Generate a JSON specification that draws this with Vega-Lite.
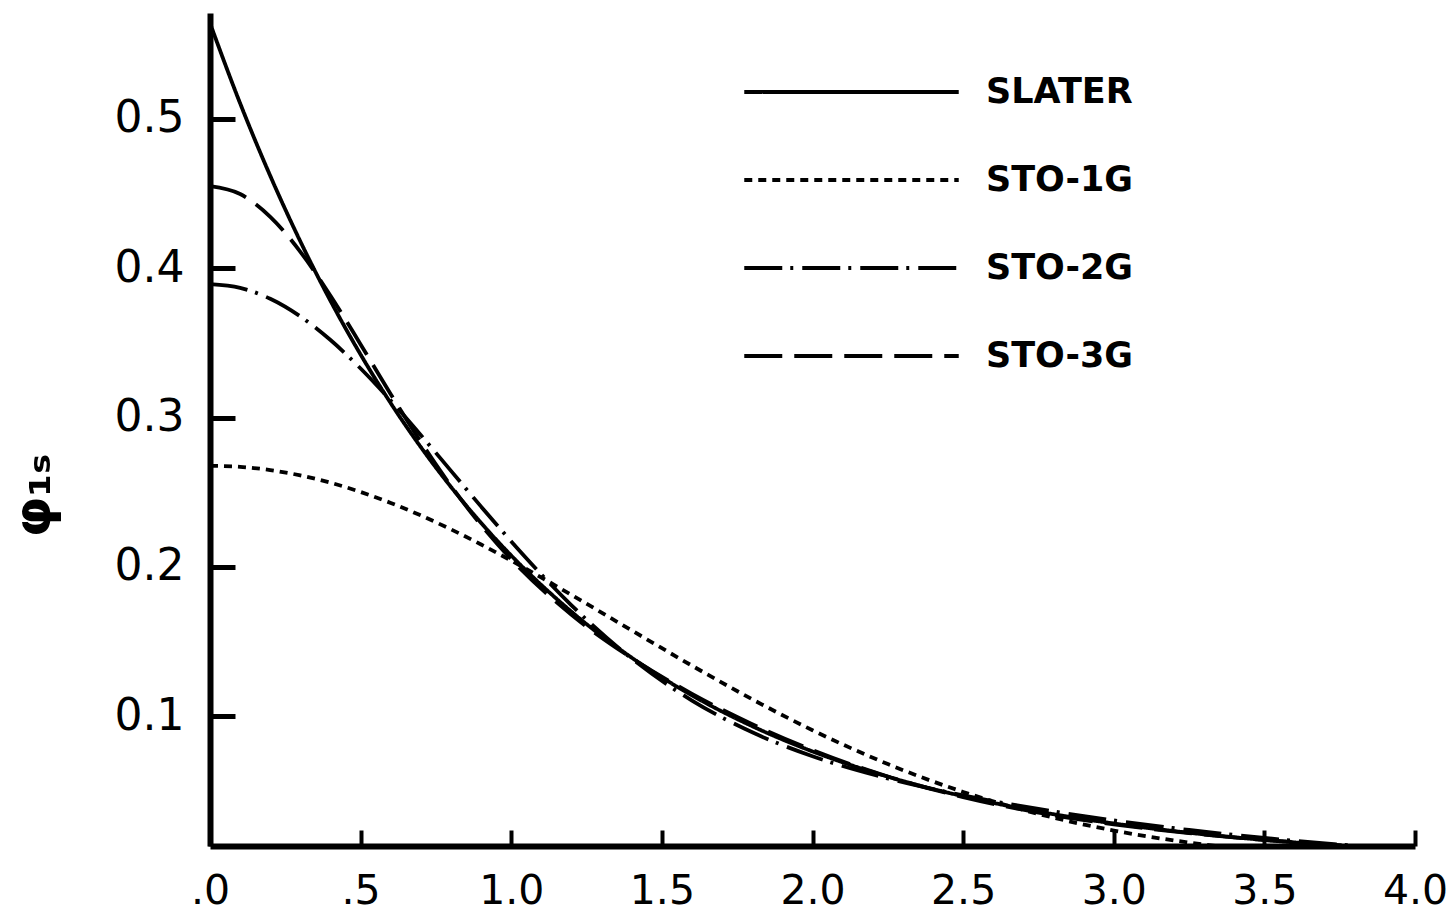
{
  "$schema": "https://vega.github.io/schema/vega-lite/v6.json",
  "width": 1205,
  "height": 833,
  "autosize": "none",
  "padding": {"left": 210, "top": 13, "right": 38, "bottom": 66},
  "background": "white",
  "config": {"view": {"stroke": null}},
  "datasets": {
    "curves": [
      {"r": 0, "phi": 0.56419, "basis": "SLATER"},
      {"r": 0.1, "phi": 0.5105, "basis": "SLATER"},
      {"r": 0.2, "phi": 0.46192, "basis": "SLATER"},
      {"r": 0.3, "phi": 0.41796, "basis": "SLATER"},
      {"r": 0.4, "phi": 0.37819, "basis": "SLATER"},
      {"r": 0.5, "phi": 0.3422, "basis": "SLATER"},
      {"r": 0.6, "phi": 0.30963, "basis": "SLATER"},
      {"r": 0.7, "phi": 0.28017, "basis": "SLATER"},
      {"r": 0.8, "phi": 0.25351, "basis": "SLATER"},
      {"r": 0.9, "phi": 0.22938, "basis": "SLATER"},
      {"r": 1.0, "phi": 0.20755, "basis": "SLATER"},
      {"r": 1.2, "phi": 0.16993, "basis": "SLATER"},
      {"r": 1.4, "phi": 0.13913, "basis": "SLATER"},
      {"r": 1.6, "phi": 0.11391, "basis": "SLATER"},
      {"r": 1.8, "phi": 0.09326, "basis": "SLATER"},
      {"r": 2.0, "phi": 0.07635, "basis": "SLATER"},
      {"r": 2.25, "phi": 0.05947, "basis": "SLATER"},
      {"r": 2.5, "phi": 0.04631, "basis": "SLATER"},
      {"r": 2.75, "phi": 0.03607, "basis": "SLATER"},
      {"r": 3.0, "phi": 0.02809, "basis": "SLATER"},
      {"r": 3.25, "phi": 0.02188, "basis": "SLATER"},
      {"r": 3.5, "phi": 0.01704, "basis": "SLATER"},
      {"r": 3.75, "phi": 0.01327, "basis": "SLATER"},
      {"r": 4.0, "phi": 0.01033, "basis": "SLATER"},

      {"r": 0, "phi": 0.2677, "basis": "STO-1G"},
      {"r": 0.1, "phi": 0.26698, "basis": "STO-1G"},
      {"r": 0.2, "phi": 0.26481, "basis": "STO-1G"},
      {"r": 0.3, "phi": 0.26125, "basis": "STO-1G"},
      {"r": 0.4, "phi": 0.25634, "basis": "STO-1G"},
      {"r": 0.5, "phi": 0.25017, "basis": "STO-1G"},
      {"r": 0.6, "phi": 0.24282, "basis": "STO-1G"},
      {"r": 0.7, "phi": 0.23442, "basis": "STO-1G"},
      {"r": 0.8, "phi": 0.22508, "basis": "STO-1G"},
      {"r": 0.9, "phi": 0.21495, "basis": "STO-1G"},
      {"r": 1.0, "phi": 0.20416, "basis": "STO-1G"},
      {"r": 1.2, "phi": 0.18122, "basis": "STO-1G"},
      {"r": 1.4, "phi": 0.1574, "basis": "STO-1G"},
      {"r": 1.6, "phi": 0.13379, "basis": "STO-1G"},
      {"r": 1.8, "phi": 0.11127, "basis": "STO-1G"},
      {"r": 2.0, "phi": 0.09056, "basis": "STO-1G"},
      {"r": 2.25, "phi": 0.0679, "basis": "STO-1G"},
      {"r": 2.5, "phi": 0.04922, "basis": "STO-1G"},
      {"r": 2.75, "phi": 0.03449, "basis": "STO-1G"},
      {"r": 3.0, "phi": 0.02336, "basis": "STO-1G"},
      {"r": 3.25, "phi": 0.0153, "basis": "STO-1G"},
      {"r": 3.5, "phi": 0.00969, "basis": "STO-1G"},
      {"r": 3.75, "phi": 0.00593, "basis": "STO-1G"},
      {"r": 4.0, "phi": 0.00351, "basis": "STO-1G"},

      {"r": 0, "phi": 0.38939, "basis": "STO-2G"},
      {"r": 0.1, "phi": 0.38691, "basis": "STO-2G"},
      {"r": 0.2, "phi": 0.37957, "basis": "STO-2G"},
      {"r": 0.3, "phi": 0.36774, "basis": "STO-2G"},
      {"r": 0.4, "phi": 0.35194, "basis": "STO-2G"},
      {"r": 0.5, "phi": 0.33288, "basis": "STO-2G"},
      {"r": 0.6, "phi": 0.31136, "basis": "STO-2G"},
      {"r": 0.7, "phi": 0.28822, "basis": "STO-2G"},
      {"r": 0.8, "phi": 0.26429, "basis": "STO-2G"},
      {"r": 0.9, "phi": 0.24033, "basis": "STO-2G"},
      {"r": 1.0, "phi": 0.217, "basis": "STO-2G"},
      {"r": 1.2, "phi": 0.17422, "basis": "STO-2G"},
      {"r": 1.4, "phi": 0.13853, "basis": "STO-2G"},
      {"r": 1.6, "phi": 0.11045, "basis": "STO-2G"},
      {"r": 1.8, "phi": 0.08915, "basis": "STO-2G"},
      {"r": 2.0, "phi": 0.07311, "basis": "STO-2G"},
      {"r": 2.25, "phi": 0.05821, "basis": "STO-2G"},
      {"r": 2.5, "phi": 0.0469, "basis": "STO-2G"},
      {"r": 2.75, "phi": 0.03779, "basis": "STO-2G"},
      {"r": 3.0, "phi": 0.03016, "basis": "STO-2G"},
      {"r": 3.25, "phi": 0.02373, "basis": "STO-2G"},
      {"r": 3.5, "phi": 0.01836, "basis": "STO-2G"},
      {"r": 3.75, "phi": 0.01394, "basis": "STO-2G"},
      {"r": 4.0, "phi": 0.01039, "basis": "STO-2G"},

      {"r": 0, "phi": 0.45499, "basis": "STO-3G"},
      {"r": 0.1, "phi": 0.44972, "basis": "STO-3G"},
      {"r": 0.2, "phi": 0.43451, "basis": "STO-3G"},
      {"r": 0.3, "phi": 0.41101, "basis": "STO-3G"},
      {"r": 0.4, "phi": 0.38162, "basis": "STO-3G"},
      {"r": 0.5, "phi": 0.349, "basis": "STO-3G"},
      {"r": 0.6, "phi": 0.31567, "basis": "STO-3G"},
      {"r": 0.7, "phi": 0.28362, "basis": "STO-3G"},
      {"r": 0.8, "phi": 0.25417, "basis": "STO-3G"},
      {"r": 0.9, "phi": 0.22796, "basis": "STO-3G"},
      {"r": 1.0, "phi": 0.20506, "basis": "STO-3G"},
      {"r": 1.2, "phi": 0.16787, "basis": "STO-3G"},
      {"r": 1.4, "phi": 0.13887, "basis": "STO-3G"},
      {"r": 1.6, "phi": 0.11496, "basis": "STO-3G"},
      {"r": 1.8, "phi": 0.0946, "basis": "STO-3G"},
      {"r": 2.0, "phi": 0.07726, "basis": "STO-3G"},
      {"r": 2.25, "phi": 0.05954, "basis": "STO-3G"},
      {"r": 2.5, "phi": 0.04579, "basis": "STO-3G"},
      {"r": 2.75, "phi": 0.03536, "basis": "STO-3G"},
      {"r": 3.0, "phi": 0.02753, "basis": "STO-3G"},
      {"r": 3.25, "phi": 0.02162, "basis": "STO-3G"},
      {"r": 3.5, "phi": 0.01709, "basis": "STO-3G"},
      {"r": 3.75, "phi": 0.01355, "basis": "STO-3G"},
      {"r": 4.0, "phi": 0.01073, "basis": "STO-3G"}
    ]
  },
  "data": {"name": "curves"},
  "mark": {"type": "line", "interpolate": "monotone", "clip": true, "color": "black", "strokeWidth": 3.8},
  "encoding": {
    "x": {
      "field": "r",
      "type": "quantitative",
      "scale": {"domain": [0, 4], "nice": false, "zero": false},
      "axis": {
        "title": null,
        "values": [0, 0.5, 1, 1.5, 2, 2.5, 3, 3.5, 4],
        "labelExpr": "datum.value < 1 ? '.' + format(datum.value * 10, 'd') : format(datum.value, '.1f')",
        "grid": false,
        "domainColor": "black",
        "domainWidth": 6,
        "tickColor": "black",
        "tickWidth": 4,
        "tickSize": -16,
        "labelPadding": 41,
        "labelFont": "DejaVu Sans",
        "labelFontSize": 41,
        "labelColor": "black",
        "labelFlush": false,
        "labelOverlap": false
      }
    },
    "y": {
      "field": "phi",
      "type": "quantitative",
      "scale": {"domain": [0.013, 0.571], "nice": false, "zero": false},
      "axis": {
        "title": "φ₁ₛ",
        "titleFont": "DejaVu Sans",
        "titleFontSize": 52,
        "titleFontWeight": "bold",
        "titleColor": "black",
        "titleX": -150,
        "titleY": 482,
        "values": [0.1, 0.2, 0.3, 0.4, 0.5],
        "format": ".1f",
        "grid": false,
        "domainColor": "black",
        "domainWidth": 6,
        "tickColor": "black",
        "tickWidth": 5,
        "tickSize": -25,
        "labelPadding": 51,
        "labelFont": "DejaVu Sans",
        "labelFontSize": 44,
        "labelColor": "black",
        "labelFlush": false,
        "labelOverlap": false
      }
    },
    "strokeDash": {
      "field": "basis",
      "type": "nominal",
      "scale": {
        "domain": ["SLATER", "STO-1G", "STO-2G", "STO-3G"],
        "range": [[1, 0], [8, 6], [38, 8, 3, 9], [38, 12]]
      },
      "legend": {
        "orient": "none",
        "legendX": 532,
        "legendY": 35,
        "title": null,
        "symbolType": "stroke",
        "symbolSize": 46000,
        "symbolStrokeWidth": 3.8,
        "symbolStrokeColor": "black",
        "labelFont": "DejaVu Sans",
        "labelFontSize": 35,
        "labelFontWeight": "bold",
        "labelColor": "black",
        "labelOffset": 25,
        "clipHeight": 88,
        "rowPadding": 0
      }
    }
  }
}
